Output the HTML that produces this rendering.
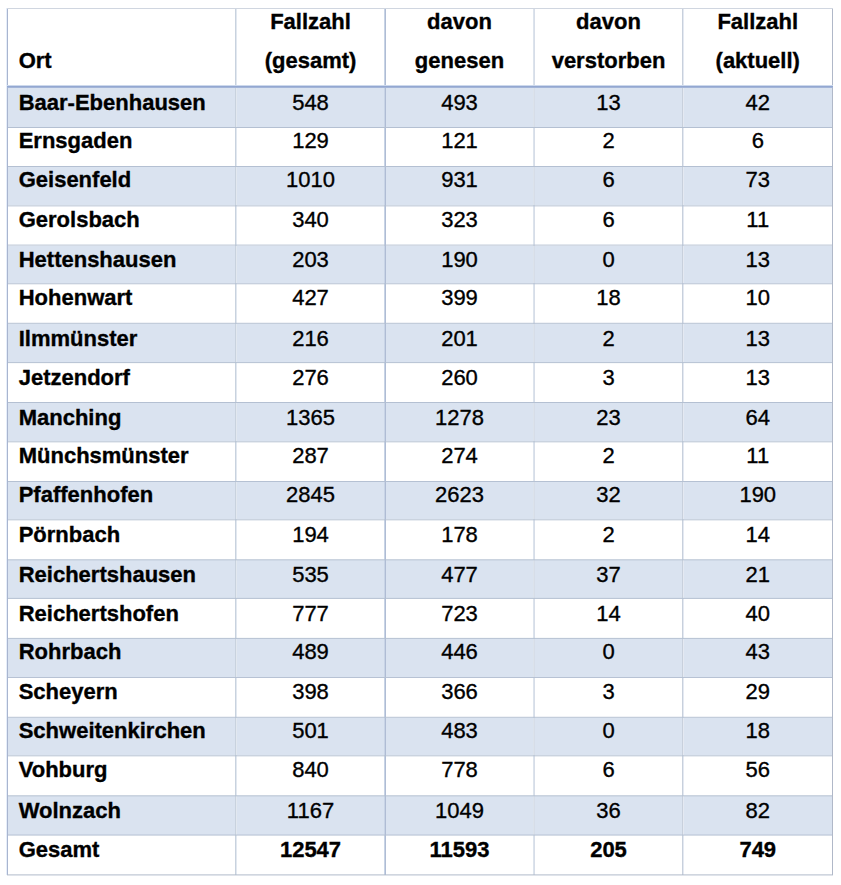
<!DOCTYPE html>
<html><head><meta charset="utf-8"><style>
html,body{margin:0;padding:0;background:#fff;}
body{width:841px;height:885px;position:relative;overflow:hidden;font-family:"Liberation Sans",sans-serif;}
i,span{position:absolute;display:block;}
span{font-size:22px;line-height:normal;white-space:nowrap;color:#000;-webkit-text-stroke:0.35px #000;}
span.b{font-weight:bold;}
span.c{width:200px;text-align:center;}
</style></head><body>
<i style="left:8px;top:88px;width:824px;height:39px;background:#dae3f0"></i>
<i style="left:8px;top:167px;width:824px;height:38px;background:#dae3f0"></i>
<i style="left:8px;top:246px;width:824px;height:37px;background:#dae3f0"></i>
<i style="left:8px;top:324px;width:824px;height:38px;background:#dae3f0"></i>
<i style="left:8px;top:403px;width:824px;height:38px;background:#dae3f0"></i>
<i style="left:8px;top:482px;width:824px;height:37px;background:#dae3f0"></i>
<i style="left:8px;top:560px;width:824px;height:38px;background:#dae3f0"></i>
<i style="left:8px;top:639px;width:824px;height:38px;background:#dae3f0"></i>
<i style="left:8px;top:718px;width:824px;height:37px;background:#dae3f0"></i>
<i style="left:8px;top:796px;width:824px;height:39px;background:#dae3f0"></i>
<i style="left:6px;top:8px;width:1px;height:867px;background:#e6eefa"></i>
<i style="left:7px;top:8px;width:1px;height:867px;background:#a9b5cf"></i>
<i style="left:235px;top:8px;width:1px;height:867px;background:#c8d2de"></i>
<i style="left:236px;top:8px;width:1px;height:867px;background:#e2e8f0"></i>
<i style="left:384px;top:8px;width:1px;height:867px;background:#c8d4e6"></i>
<i style="left:385px;top:8px;width:1px;height:867px;background:#afbcd4"></i>
<i style="left:533px;top:8px;width:1px;height:867px;background:#dce3ec"></i>
<i style="left:534px;top:8px;width:1px;height:867px;background:#d6dde8"></i>
<i style="left:682px;top:8px;width:1px;height:867px;background:#c8d0dc"></i>
<i style="left:683px;top:8px;width:1px;height:867px;background:#e4e9f2"></i>
<i style="left:832px;top:8px;width:1px;height:867px;background:#b0b8c8"></i>
<i style="left:8px;top:127px;width:824px;height:1px;background:rgba(180,192,210,1.000)"></i>
<i style="left:8px;top:166px;width:824px;height:1px;background:rgba(180,192,210,1.000)"></i>
<i style="left:8px;top:205px;width:824px;height:1px;background:rgba(180,192,210,0.640)"></i>
<i style="left:8px;top:206px;width:824px;height:1px;background:rgba(180,192,210,0.360)"></i>
<i style="left:8px;top:245px;width:824px;height:1px;background:rgba(180,192,210,0.600)"></i>
<i style="left:8px;top:244px;width:824px;height:1px;background:rgba(180,192,210,0.400)"></i>
<i style="left:8px;top:283px;width:824px;height:1px;background:rgba(180,192,210,0.740)"></i>
<i style="left:8px;top:284px;width:824px;height:1px;background:rgba(180,192,210,0.260)"></i>
<i style="left:8px;top:323px;width:824px;height:1px;background:rgba(180,192,210,0.800)"></i>
<i style="left:8px;top:322px;width:824px;height:1px;background:rgba(180,192,210,0.200)"></i>
<i style="left:8px;top:362px;width:824px;height:1px;background:rgba(180,192,210,0.900)"></i>
<i style="left:8px;top:363px;width:824px;height:1px;background:rgba(180,192,210,0.100)"></i>
<i style="left:8px;top:402px;width:824px;height:1px;background:rgba(180,192,210,1.000)"></i>
<i style="left:8px;top:441px;width:824px;height:1px;background:rgba(180,192,210,0.700)"></i>
<i style="left:8px;top:442px;width:824px;height:1px;background:rgba(180,192,210,0.300)"></i>
<i style="left:8px;top:481px;width:824px;height:1px;background:rgba(180,192,210,0.980)"></i>
<i style="left:8px;top:519px;width:824px;height:1px;background:rgba(180,192,210,0.700)"></i>
<i style="left:8px;top:520px;width:824px;height:1px;background:rgba(180,192,210,0.300)"></i>
<i style="left:8px;top:559px;width:824px;height:1px;background:rgba(180,192,210,0.700)"></i>
<i style="left:8px;top:560px;width:824px;height:1px;background:rgba(180,192,210,0.300)"></i>
<i style="left:8px;top:598px;width:824px;height:1px;background:rgba(180,192,210,0.900)"></i>
<i style="left:8px;top:597px;width:824px;height:1px;background:rgba(180,192,210,0.100)"></i>
<i style="left:8px;top:638px;width:824px;height:1px;background:rgba(180,192,210,0.900)"></i>
<i style="left:8px;top:637px;width:824px;height:1px;background:rgba(180,192,210,0.100)"></i>
<i style="left:8px;top:677px;width:824px;height:1px;background:rgba(180,192,210,0.960)"></i>
<i style="left:8px;top:717px;width:824px;height:1px;background:rgba(180,192,210,0.800)"></i>
<i style="left:8px;top:716px;width:824px;height:1px;background:rgba(180,192,210,0.200)"></i>
<i style="left:8px;top:755px;width:824px;height:1px;background:rgba(180,192,210,0.700)"></i>
<i style="left:8px;top:756px;width:824px;height:1px;background:rgba(180,192,210,0.300)"></i>
<i style="left:8px;top:795px;width:824px;height:1px;background:rgba(180,192,210,0.700)"></i>
<i style="left:8px;top:796px;width:824px;height:1px;background:rgba(180,192,210,0.300)"></i>
<i style="left:8px;top:835px;width:824px;height:1px;background:rgba(180,192,210,0.560)"></i>
<i style="left:8px;top:834px;width:824px;height:1px;background:rgba(180,192,210,0.440)"></i>
<i style="left:7px;top:8px;width:826px;height:1px;background:#d0d6e0"></i>
<i style="left:7px;top:874px;width:826px;height:1px;background:rgba(176,186,202,0.600)"></i>
<i style="left:7px;top:875px;width:826px;height:1px;background:rgba(176,186,202,0.400)"></i>
<i style="left:7px;top:85px;width:826px;height:1px;background:#cdd9ec"></i>
<i style="left:7px;top:86px;width:826px;height:1px;background:#93a7d1"></i>
<i style="left:7px;top:87px;width:826px;height:1px;background:#a3b5d8"></i>
<span class="b" style="left:18.7px;top:47.99px">Ort</span>
<span class="c b" style="left:210.5px;top:8.79px">Fallzahl</span>
<span class="c b" style="left:210.5px;top:48.09px">(gesamt)</span>
<span class="c b" style="left:359.5px;top:8.79px">davon</span>
<span class="c b" style="left:359.5px;top:48.09px">genesen</span>
<span class="c b" style="left:508.5px;top:8.79px">davon</span>
<span class="c b" style="left:508.5px;top:48.09px">verstorben</span>
<span class="c b" style="left:657.75px;top:8.79px">Fallzahl</span>
<span class="c b" style="left:657.75px;top:48.09px">(aktuell)</span>
<span class="b" style="left:18.7px;top:89.79px">Baar-Ebenhausen</span>
<span class="c " style="left:210.5px;top:89.79px">548</span>
<span class="c " style="left:359.5px;top:89.79px">493</span>
<span class="c " style="left:508.5px;top:89.79px">13</span>
<span class="c " style="left:657.75px;top:89.79px">42</span>
<span class="b" style="left:18.7px;top:128.19px">Ernsgaden</span>
<span class="c " style="left:210.5px;top:128.19px">129</span>
<span class="c " style="left:359.5px;top:128.19px">121</span>
<span class="c " style="left:508.5px;top:128.19px">2</span>
<span class="c " style="left:657.75px;top:128.19px">6</span>
<span class="b" style="left:18.7px;top:167.49px">Geisenfeld</span>
<span class="c " style="left:210.5px;top:167.49px">1010</span>
<span class="c " style="left:359.5px;top:167.49px">931</span>
<span class="c " style="left:508.5px;top:167.49px">6</span>
<span class="c " style="left:657.75px;top:167.49px">73</span>
<span class="b" style="left:18.7px;top:206.79px">Gerolsbach</span>
<span class="c " style="left:210.5px;top:206.79px">340</span>
<span class="c " style="left:359.5px;top:206.79px">323</span>
<span class="c " style="left:508.5px;top:206.79px">6</span>
<span class="c " style="left:657.75px;top:206.79px">11</span>
<span class="b" style="left:18.7px;top:247.09px">Hettenshausen</span>
<span class="c " style="left:210.5px;top:247.09px">203</span>
<span class="c " style="left:359.5px;top:247.09px">190</span>
<span class="c " style="left:508.5px;top:247.09px">0</span>
<span class="c " style="left:657.75px;top:247.09px">13</span>
<span class="b" style="left:18.7px;top:285.49px">Hohenwart</span>
<span class="c " style="left:210.5px;top:285.49px">427</span>
<span class="c " style="left:359.5px;top:285.49px">399</span>
<span class="c " style="left:508.5px;top:285.49px">18</span>
<span class="c " style="left:657.75px;top:285.49px">10</span>
<span class="b" style="left:18.7px;top:325.69px">Ilmmünster</span>
<span class="c " style="left:210.5px;top:325.69px">216</span>
<span class="c " style="left:359.5px;top:325.69px">201</span>
<span class="c " style="left:508.5px;top:325.69px">2</span>
<span class="c " style="left:657.75px;top:325.69px">13</span>
<span class="b" style="left:18.7px;top:364.59px">Jetzendorf</span>
<span class="c " style="left:210.5px;top:364.59px">276</span>
<span class="c " style="left:359.5px;top:364.59px">260</span>
<span class="c " style="left:508.5px;top:364.59px">3</span>
<span class="c " style="left:657.75px;top:364.59px">13</span>
<span class="b" style="left:18.7px;top:404.79px">Manching</span>
<span class="c " style="left:210.5px;top:404.79px">1365</span>
<span class="c " style="left:359.5px;top:404.79px">1278</span>
<span class="c " style="left:508.5px;top:404.79px">23</span>
<span class="c " style="left:657.75px;top:404.79px">64</span>
<span class="b" style="left:18.7px;top:442.79px">Münchsmünster</span>
<span class="c " style="left:210.5px;top:442.79px">287</span>
<span class="c " style="left:359.5px;top:442.79px">274</span>
<span class="c " style="left:508.5px;top:442.79px">2</span>
<span class="c " style="left:657.75px;top:442.79px">11</span>
<span class="b" style="left:18.7px;top:481.89px">Pfaffenhofen</span>
<span class="c " style="left:210.5px;top:481.89px">2845</span>
<span class="c " style="left:359.5px;top:481.89px">2623</span>
<span class="c " style="left:508.5px;top:481.89px">32</span>
<span class="c " style="left:657.75px;top:481.89px">190</span>
<span class="b" style="left:18.7px;top:521.69px">Pörnbach</span>
<span class="c " style="left:210.5px;top:521.69px">194</span>
<span class="c " style="left:359.5px;top:521.69px">178</span>
<span class="c " style="left:508.5px;top:521.69px">2</span>
<span class="c " style="left:657.75px;top:521.69px">14</span>
<span class="b" style="left:18.7px;top:561.79px">Reichertshausen</span>
<span class="c " style="left:210.5px;top:561.79px">535</span>
<span class="c " style="left:359.5px;top:561.79px">477</span>
<span class="c " style="left:508.5px;top:561.79px">37</span>
<span class="c " style="left:657.75px;top:561.79px">21</span>
<span class="b" style="left:18.7px;top:600.69px">Reichertshofen</span>
<span class="c " style="left:210.5px;top:600.69px">777</span>
<span class="c " style="left:359.5px;top:600.69px">723</span>
<span class="c " style="left:508.5px;top:600.69px">14</span>
<span class="c " style="left:657.75px;top:600.69px">40</span>
<span class="b" style="left:18.7px;top:638.89px">Rohrbach</span>
<span class="c " style="left:210.5px;top:638.89px">489</span>
<span class="c " style="left:359.5px;top:638.89px">446</span>
<span class="c " style="left:508.5px;top:638.89px">0</span>
<span class="c " style="left:657.75px;top:638.89px">43</span>
<span class="b" style="left:18.7px;top:678.69px">Scheyern</span>
<span class="c " style="left:210.5px;top:678.69px">398</span>
<span class="c " style="left:359.5px;top:678.69px">366</span>
<span class="c " style="left:508.5px;top:678.69px">3</span>
<span class="c " style="left:657.75px;top:678.69px">29</span>
<span class="b" style="left:18.7px;top:717.89px">Schweitenkirchen</span>
<span class="c " style="left:210.5px;top:717.89px">501</span>
<span class="c " style="left:359.5px;top:717.89px">483</span>
<span class="c " style="left:508.5px;top:717.89px">0</span>
<span class="c " style="left:657.75px;top:717.89px">18</span>
<span class="b" style="left:18.7px;top:757.29px">Vohburg</span>
<span class="c " style="left:210.5px;top:757.29px">840</span>
<span class="c " style="left:359.5px;top:757.29px">778</span>
<span class="c " style="left:508.5px;top:757.29px">6</span>
<span class="c " style="left:657.75px;top:757.29px">56</span>
<span class="b" style="left:18.7px;top:797.89px">Wolnzach</span>
<span class="c " style="left:210.5px;top:797.89px">1167</span>
<span class="c " style="left:359.5px;top:797.89px">1049</span>
<span class="c " style="left:508.5px;top:797.89px">36</span>
<span class="c " style="left:657.75px;top:797.89px">82</span>
<span class="b" style="left:18.7px;top:836.79px">Gesamt</span>
<span class="c b" style="left:210.5px;top:836.79px">12547</span>
<span class="c b" style="left:359.5px;top:836.79px">11593</span>
<span class="c b" style="left:508.5px;top:836.79px">205</span>
<span class="c b" style="left:657.75px;top:836.79px">749</span>
</body></html>
